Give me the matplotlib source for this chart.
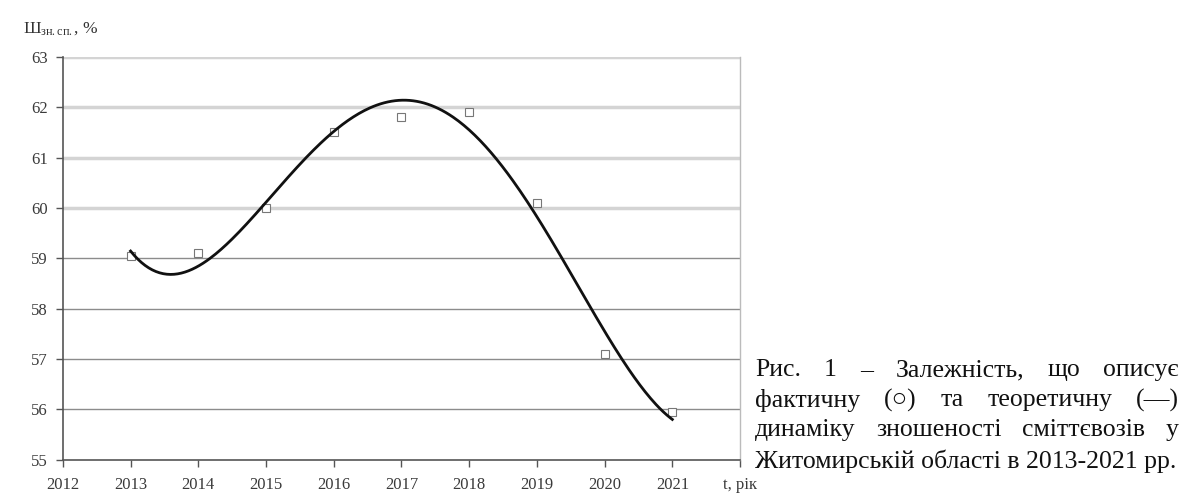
import numpy as np
import matplotlib
matplotlib.use("Agg")
import matplotlib.pyplot as plt

plt.rcParams['font.family'] = ['Liberation Serif', 'DejaVu Serif']
plt.rcParams['mathtext.fontset'] = 'custom'
plt.rcParams['mathtext.rm'] = 'Liberation Serif'
plt.rcParams['mathtext.it'] = 'Liberation Serif:italic'

years = [2013, 2014, 2015, 2016, 2017, 2018, 2019, 2020, 2021]
wear_actual = [59.05, 59.1, 60.0, 61.5, 61.8, 61.9, 60.1, 57.1, 55.95]
x_ticks = [2012, 2013, 2014, 2015, 2016, 2017, 2018, 2019, 2020, 2021, 2022]
x_labels = ['2012', '2013', '2014', '2015', '2016', '2017', '2018', '2019',
            '2020', '2021', 't, рік']
y_ticks = [55, 56, 57, 58, 59, 60, 61, 62, 63]
caption_lines = [
    "Рис. 1 – Залежність, що описує",
    "фактичну (○) та теоретичну (—)",
    "динаміку зношеності сміттєвозів у",
    "Житомирській області в 2013-2021 рр.",
]

# theoretical trend: 4th degree polynomial fitted to the actual values
t = np.array(years) - years[0]
coef = np.polyfit(t, wear_actual, 4)
t_fine = np.linspace(t[0], t[-1], 300)
wear_fit = np.polyval(coef, t_fine)

fig = plt.figure(figsize=(11.86, 4.95), dpi=100)
ax = fig.add_axes([0.053, 0.071, 0.571, 0.814])

for y in y_ticks[1:]:
    if y >= 60:
        ax.axhline(y, color='#d4d4d4', lw=2.5, zorder=1)
    else:
        ax.axhline(y, color='#8c8c8c', lw=1.0, zorder=1)

ax.plot(years, wear_actual, linestyle='none', marker='s', markersize=6,
        markerfacecolor='white', markeredgecolor='#777777', markeredgewidth=0.8,
        zorder=2)
ax.plot(years[0] + t_fine, wear_fit, color='#111111', lw=2.0, zorder=3)

ax.set_xlim(2012, 2022)
ax.set_ylim(55, 63)
ax.set_xticks(x_ticks)
ax.set_xticklabels(x_labels)
ax.set_yticks(y_ticks)
ax.tick_params(axis='both', direction='out', length=5, width=1,
               labelsize=12, colors='#555555', labelcolor='#3a3a3a')
ax.tick_params(axis='x', pad=7)
ax.tick_params(axis='y', pad=6)

for side in ['left', 'bottom']:
    ax.spines[side].set_color('#555555')
    ax.spines[side].set_linewidth(1.2)
ax.spines['top'].set_visible(False)
ax.spines['right'].set_color('#bbbbbb')
ax.spines['right'].set_linewidth(1.0)

fig.text(0.019, 0.935, 'Ш$_{\\mathrm{зн.сп.}}$, %', fontsize=12.5, color='#333333')

# justified caption on the right
x_left, x_right = 755 / 1186, 1179 / 1186
line_y = [370, 400, 430, 461]
fs = 18.5
fig.canvas.draw()
renderer = fig.canvas.get_renderer()
for i, line in enumerate(caption_lines):
    y = 1 - line_y[i] / 495
    if i == len(caption_lines) - 1:
        fig.text(x_left, y, line, fontsize=fs, va='center', ha='left', color='#111111')
        continue
    words = line.split(' ')
    objs = [fig.text(0, y, w, fontsize=fs, va='center', ha='left', color='#111111')
            for w in words]
    widths = [o.get_window_extent(renderer).width / fig.bbox.width for o in objs]
    gap = (x_right - x_left - sum(widths)) / (len(words) - 1)
    pos = x_left
    for o, w in zip(objs, widths):
        o.set_x(pos)
        pos += w + gap

fig.savefig('out.png', dpi=100)
